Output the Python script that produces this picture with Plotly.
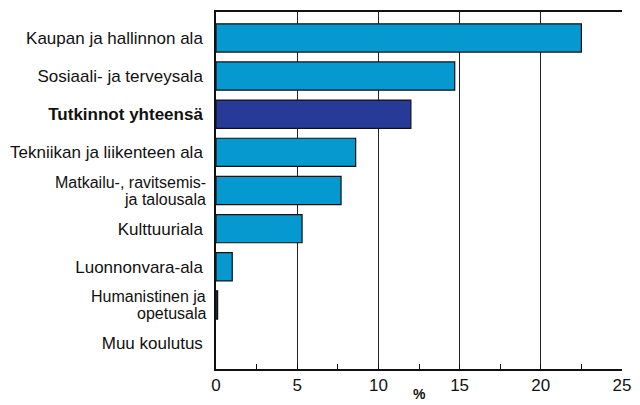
import plotly.graph_objects as go

categories = [
    "Kaupan ja hallinnon ala",
    "Sosiaali- ja terveysala",
    "Tutkinnot yhteensä",
    "Tekniikan ja liikenteen ala",
    "Matkailu-, ravitsemis- ja talousala",
    "Kulttuuriala",
    "Luonnonvara-ala",
    "Humanistinen ja opetusala",
    "Muu koulutus",
]
tick_labels = [
    "Kaupan ja hallinnon ala",
    "Sosiaali- ja terveysala",
    "<b>Tutkinnot yhteensä</b>",
    "Tekniikan ja liikenteen ala",
    "",
    "Kulttuuriala",
    "Luonnonvara-ala",
    "",
    "Muu koulutus",
]
two_line_labels = {
    "Matkailu-, ravitsemis- ja talousala": ["Matkailu-, ravitsemis-", "ja talousala"],
    "Humanistinen ja opetusala": ["Humanistinen ja", "opetusala"],
}
values = [22.5, 14.7, 12.0, 8.6, 7.7, 5.3, 1.0, 0.1, 0.0]
colors = ["#0599cf", "#0599cf", "#283a97", "#0599cf", "#0599cf",
          "#0599cf", "#0599cf", "#283a97", "#0599cf"]
x_ticks = [0, 5, 10, 15, 20, 25]

FONT = "Liberation Sans, Arial, sans-serif"
FS = 17

fig = go.Figure()
fig.add_trace(go.Bar(
    y=categories, x=values, orientation="h",
    marker=dict(color=colors,
                line=dict(color="#111111", width=[1.2 if v > 0 else 0 for v in values])),
    width=0.74,
))

for cat, lines in two_line_labels.items():
    for i, txt in enumerate(lines):
        fig.add_annotation(
            x=-0.02, xref="paper", y=cat, yref="y",
            text=txt, showarrow=False, xanchor="right", yanchor="middle",
            yshift=8 - 17 * i,
            font=dict(family=FONT, size=16, color="#111111"),
        )

fig.add_annotation(
    x=0.5, xref="paper", y=0, yref="paper",
    text="<b>%</b>", showarrow=False, xanchor="center", yanchor="bottom",
    yshift=-35, font=dict(family=FONT, size=14, color="#111111"),
)

fig.update_layout(
    width=640, height=405,
    margin=dict(l=208, r=26, t=4, b=44, autoexpand=False),
    paper_bgcolor="white", plot_bgcolor="white",
    font=dict(family=FONT, size=FS, color="#111111"),
    showlegend=False,
    xaxis=dict(
        range=[0, 25], tickvals=x_ticks, ticktext=[str(v) for v in x_ticks],
        showgrid=True, gridcolor="#222222", gridwidth=1,
        showline=True, linecolor="#111111", linewidth=1.5, mirror=True,
        ticks="inside", ticklen=5, tickcolor="#111111",
        minor=dict(dtick=2.5, tick0=0, ticks="inside", ticklen=5, tickcolor="#111111", showgrid=False),
        zeroline=False,
        tickfont=dict(size=FS),
        fixedrange=True,
    ),
    yaxis=dict(
        categoryorder="array", categoryarray=categories,
        tickvals=categories, ticktext=tick_labels,
        range=[8.68, -0.68],
        showline=True, linecolor="#111111", linewidth=1.5,
        ticks="", ticklabelstandoff=8,
        showgrid=False, zeroline=False,
        tickfont=dict(size=FS),
        fixedrange=True,
    ),
)

fig.write_html("out.html")
